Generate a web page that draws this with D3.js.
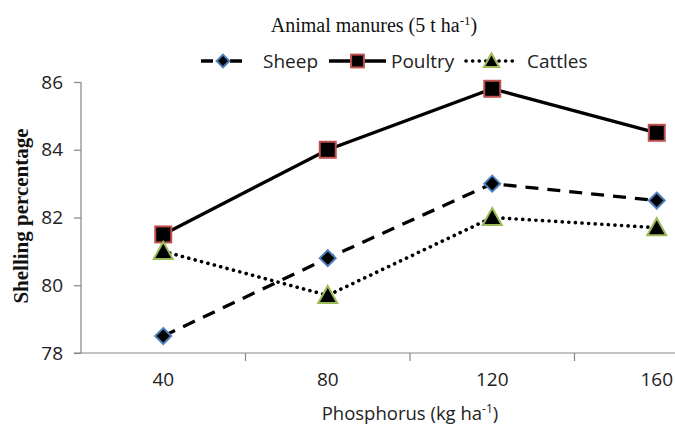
<!DOCTYPE html>
<html><head><meta charset="utf-8">
<script src="https://cdn.jsdelivr.net/npm/d3@7"></script>
<style>body{margin:0;background:#fff}svg{display:block}</style>
</head><body>
<svg id="c" width="675" height="425"></svg>
<script>
const categories = ["40","80","120","160"];
const sheep   = [78.5, 80.8, 83.0, 82.5];
const poultry = [81.5, 84.0, 85.8, 84.5];
const cattles = [81.0, 79.7, 82.0, 81.7];
const yTicks  = [78, 80, 82, 84, 86];

(function(){
const svg = d3.select("#c");
const mLeft = 81, mTop = 82, mBottom = 353, band = 164.5;
const mRight = mLeft + band * categories.length;
const x = d3.scaleBand().domain(categories).range([mLeft, mRight]).paddingInner(0).paddingOuter(0);
const y = d3.scaleLinear().domain([78, 86]).range([mBottom, mTop]);
const cx = d => x(d) + x.bandwidth()/2;
const axisColor = "#868686";
const sans = "'Open Sans', 'Liberation Sans', sans-serif";
const serif = "'Liberation Serif', 'Times New Roman', serif";

// y axis
const ya = svg.append("g").attr("transform", `translate(${mLeft},0)`)
  .call(d3.axisLeft(y).tickValues(yTicks).tickSize(7).tickPadding(11).tickFormat(d3.format("d")));
ya.select(".domain").attr("stroke", axisColor).attr("stroke-width", 1.2).attr("d", `M0,${mTop}V${mBottom}`);
ya.selectAll(".tick line").attr("stroke", axisColor).attr("stroke-width", 1.2);
ya.selectAll("text").attr("font-family", sans).attr("font-size", 19).attr("fill", "#222");

// x axis
const xa = svg.append("g").attr("transform", `translate(0,${mBottom})`)
  .call(d3.axisBottom(x).tickSize(0).tickPadding(20));
xa.select(".domain").attr("stroke", axisColor).attr("stroke-width", 1.2).attr("d", `M${mLeft - 7},0H${mRight}`);
xa.selectAll("text").attr("font-family", sans).attr("font-size", 19).attr("fill", "#222");
// category boundary ticks
svg.append("g").selectAll("line").data(categories.slice(1)).join("line")
  .attr("x1", d => x(d)).attr("x2", d => x(d))
  .attr("y1", mBottom).attr("y2", mBottom + 8)
  .attr("stroke", axisColor).attr("stroke-width", 1.2);

// series
const series = [
  {name: "Sheep", values: sheep, dash: "13,9", cap: "butt", marker: "diamond", stroke: "#4f81bd"},
  {name: "Poultry", values: poultry, dash: null, cap: "butt", marker: "square", stroke: "#c0504d"},
  {name: "Cattles", values: cattles, dash: "0.1,6.5", cap: "round", marker: "triangle", stroke: "#9bbb59"}
];
const line = d3.line().x((d,i) => cx(categories[i])).y(d => y(d));

function drawMarker(g, type, stroke, k) {
  k = k || 1;
  if (type === "diamond") {
    g.append("path").attr("d", `M0,${-8*k}L${8*k},0L0,${8*k}L${-8*k},0Z`).attr("fill", "#000").attr("stroke", stroke).attr("stroke-width", 2);
  } else if (type === "square") {
    g.append("rect").attr("x", -8*k).attr("y", -8*k).attr("width", 16*k).attr("height", 16*k)
      .attr("fill", "#000").attr("stroke", stroke).attr("stroke-width", 2);
  } else {
    g.append("path").attr("d", `M0,${-9.5*k}L${9.5*k},${7.5*k}L${-9.5*k},${7.5*k}Z`).attr("fill", "#000").attr("stroke", stroke).attr("stroke-width", 2);
  }
}

series.forEach(s => {
  svg.append("path").datum(s.values).attr("d", line)
    .attr("fill", "none").attr("stroke", "#000").attr("stroke-width", s.cap === "round" ? 3.6 : 3.3)
    .attr("stroke-dasharray", s.dash).attr("stroke-linecap", s.cap);
  s.values.forEach((v, i) => {
    const g = svg.append("g").attr("transform", `translate(${cx(categories[i])},${y(v)})`);
    drawMarker(g, s.marker, s.stroke);
  });
});

// title
const t = svg.append("text").attr("x", 374).attr("y", 32).attr("text-anchor", "middle")
  .attr("font-family", serif).attr("font-size", 20).attr("fill", "#111");
t.append("tspan").text("Animal manures (5 t ha");
t.append("tspan").attr("dy", -7).attr("font-size", 13).text("-1");
t.append("tspan").attr("dy", 7).text(")");

// legend
const legY = 61;
const legend = [
  {s: series[0], x0: 201, x1: 245, tx: 263},
  {s: series[1], x0: 329, x1: 386, tx: 391},
  {s: series[2], x0: 466, x1: 517, tx: 527}
];
legend.forEach(l => {
  svg.append("line").attr("x1", l.x0).attr("x2", l.x1).attr("y1", legY).attr("y2", legY)
    .attr("stroke", "#000").attr("stroke-width", l.s.cap === "round" ? 3.6 : 3.3)
    .attr("stroke-dasharray", l.s.name === "Sheep" ? "12,17" : l.s.dash).attr("stroke-linecap", l.s.cap);
  const g = svg.append("g").attr("transform", `translate(${(l.x0 + l.x1)/2},${legY})`);
  drawMarker(g, l.s.marker, l.s.stroke, 0.8);
  svg.append("text").attr("x", l.tx).attr("y", legY + 7).attr("font-family", sans).attr("font-size", 19)
    .attr("fill", "#222").text(l.s.name);
});

// axis titles
const xt = svg.append("text").attr("x", 410).attr("y", 420).attr("text-anchor", "middle")
  .attr("font-family", sans).attr("font-size", 18.5).attr("fill", "#222");
xt.append("tspan").text("Phosphorus (kg ha");
xt.append("tspan").attr("dy", -7).attr("font-size", 12).text("-1");
xt.append("tspan").attr("dy", 7).text(")");

svg.append("text").attr("transform", "translate(28,216) rotate(-90)").attr("text-anchor", "middle")
  .attr("font-family", serif).attr("font-weight", "bold").attr("font-size", 21).attr("fill", "#111")
  .text("Shelling percentage");
})();
</script>
</body></html>
